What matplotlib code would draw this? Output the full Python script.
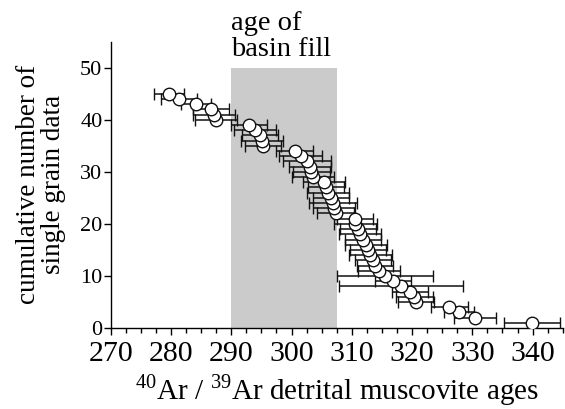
import numpy as np
import matplotlib
matplotlib.use("Agg")
import matplotlib.pyplot as plt
from matplotlib.ticker import MultipleLocator

plt.rcParams['font.family'] = ['Liberation Serif', 'DejaVu Serif']
plt.rcParams['mathtext.fontset'] = 'custom'
plt.rcParams['mathtext.rm'] = 'Liberation Serif'

# =========================================================
# DATOS
# =========================================================
# edades 40Ar/39Ar (Ma), de la más vieja (n=1) a la más joven (n=45)
ages = [339.9, 330.5, 327.8, 326.2, 320.7, 320.4, 319.6, 318.2, 316.8, 315.5,
        314.5, 313.8, 313.5, 313.1, 312.7, 312.3, 311.8, 311.4, 311.0, 310.6,
        310.5, 307.3, 307.1, 306.9, 306.5, 306.1, 305.7, 305.4, 303.6, 303.3,
        303.0, 302.6, 301.5, 300.5, 295.3, 295.1, 294.7, 294.0, 292.9, 287.4,
        287.2, 286.7, 284.2, 281.3, 279.6]
errors = [4.7, 3.5, 2.5, 3.0, 3.0, 3.0, 3.0, 10.3, 3.0, 7.9,
          3.5, 3.0, 3.0, 3.5, 3.0, 3.5, 3.0, 3.5, 3.0, 3.5,
          3.0, 3.0, 3.5, 4.0, 3.0, 3.5, 3.0, 3.5, 3.5, 3.0,
          3.5, 4.0, 3.5, 3.0, 3.0, 3.5, 3.0, 3.5, 3.0, 3.5,
          3.5, 3.0, 2.5, 3.0, 2.5]
counts = list(range(1, len(ages) + 1))

basin_fill = (290.0, 307.5)
basin_top = 50

# =========================================================
# FIGURA
# =========================================================
fig = plt.figure(figsize=(5.65, 4.09), dpi=100)
ax = fig.add_axes([0.196, 0.198, 0.8, 0.70])

ax.fill_between(basin_fill, 0, basin_top, color='#cbcbcb', lw=0, zorder=0)

ax.errorbar(ages, counts, xerr=errors, fmt='o', color='#111111',
            ecolor='#111111', elinewidth=1.1, capsize=4, capthick=1.1,
            markersize=9, markerfacecolor='white', markeredgecolor='#111111',
            markeredgewidth=1.0, zorder=3)

ax.text(basin_fill[0], 52.2, 'age of\nbasin fill', ha='left', va='baseline',
        fontsize=20.5, linespacing=1.05)

ax.set_xlim(270, 345)
ax.set_ylim(0, 55)
ax.xaxis.set_minor_locator(MultipleLocator(2.5))
ax.yaxis.set_major_locator(MultipleLocator(10))
ax.set_xticks(np.arange(270, 341, 10))

for s in ['top', 'right']:
    ax.spines[s].set_visible(False)
for s in ['left', 'bottom']:
    ax.spines[s].set_linewidth(1.0)

ax.tick_params(axis='x', which='major', direction='out', length=5, width=1,
               labelsize=21.5, pad=4)
ax.tick_params(axis='x', which='minor', direction='out', length=3.5, width=1)
ax.tick_params(axis='y', which='major', direction='out', length=5, width=1,
               labelsize=16, pad=1)

ax.set_xlabel(r'$^{40}$Ar / $^{39}$Ar detrital muscovite ages', fontsize=21,
              labelpad=4)
ax.set_ylabel('cumulative number of\nsingle grain data', fontsize=19.5,
              linespacing=1.0, labelpad=10)

fig.savefig('out.png', dpi=100)
